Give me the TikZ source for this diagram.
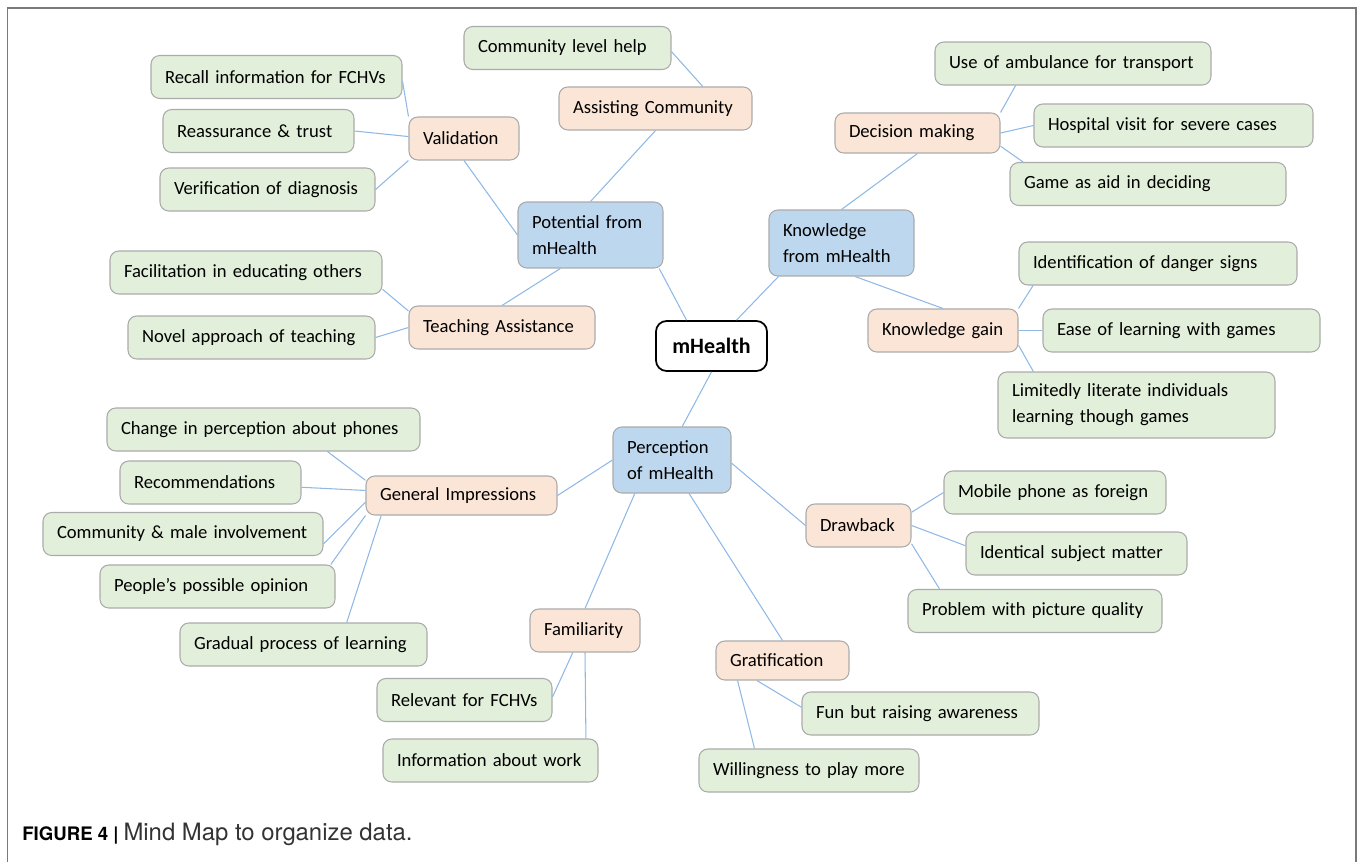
\documentclass[tikz,border=0pt]{standalone}
\usepackage{fontspec}
\setmainfont{Carlito}
\newfontfamily\capfont{TeX Gyre Heros}
\definecolor{hubblue}{HTML}{BDD7EE}
\definecolor{topicpeach}{HTML}{FBE5D6}
\definecolor{leafgreen}{HTML}{E2EFDA}
\definecolor{cardgray}{HTML}{ABABAB}
\definecolor{linkblue}{HTML}{8FB8E6}
\definecolor{framegray}{HTML}{7A7A7A}
\definecolor{captext}{HTML}{333333}
\begin{document}
\begin{tikzpicture}[x=0.02cm, y=-0.02cm,
    card/.style={draw=cardgray, line width=0.6pt, rounded corners=5pt, inner xsep=0.28cm, inner ysep=1pt,
      align=left, minimum height=0.86cm, font=\fontsize{10.6}{14.8}\selectfont},
    hub/.style={card, fill=hubblue, text width=(#1-28)*0.02cm, minimum height=1.32cm},
    topic/.style={card, fill=topicpeach, text width=(#1-28)*0.02cm},
    leaf/.style={card, fill=leafgreen, text width=(#1-28)*0.02cm},
    link/.style={draw=linkblue, line width=0.6pt}]
    \useasboundingbox (0,0) rectangle (1358,862);
    \draw[framegray, line width=1.1pt] (7.5,862) -- (7.5,8) -- (1356,8) -- (1356,862);

    % centre and branches
    \node[draw=black, line width=1pt, rounded corners=6pt, fill=white, minimum width=2.22cm, minimum height=1cm,
      font=\fontsize{12.5}{15}\selectfont\bfseries] (root) at (711.5,346) {mHealth};
    \node[hub=145] (pot) at (590.5,235) {Potential from\\mHealth};
    \node[hub=145] (know) at (841.5,243) {Knowledge\\from mHealth};
    \node[hub=118] (perc) at (672,460) {Perception\\of mHealth};

    \node[topic=193] (assist) at (655.5,108.5) {Assisting Community};
    \node[topic=110] (valid) at (464,138.5) {Validation};
    \node[topic=186] (teach) at (502,327.5) {Teaching Assistance};
    \node[topic=165, minimum height=0.8cm] (decis) at (917.5,133) {Decision making};
    \node[topic=150] (kgain) at (943,330.5) {Knowledge gain};
    \node[topic=191, minimum height=0.78cm] (genimp) at (461.5,495.5) {General Impressions};
    \node[topic=105] (drawb) at (858.5,525.5) {Drawback};
    \node[topic=110] (famil) at (585,630.5) {Familiarity};
    \node[topic=133, minimum height=0.78cm] (grat) at (782.5,660.5) {Gratification};

    % leaves
    \node[leaf=207] (help) at (567.5,48) {Community level help};
    \node[leaf=251] (recall) at (276.5,77) {Recall information for FCHVs};
    \node[leaf=191] (reass) at (258.5,131) {Reassurance \& trust};
    \node[leaf=215] (verif) at (267.5,189.5) {Verification of diagnosis};
    \node[leaf=272] (facil) at (246,272.5) {Facilitation in educating others};
    \node[leaf=247] (novel) at (251.5,337.5) {Novel approach of teaching};
    \node[leaf=276] (amb) at (1073,63.5) {Use of ambulance for transport};
    \node[leaf=279] (hosp) at (1173.5,125.5) {Hospital visit for severe cases};
    \node[leaf=276] (game) at (1148,184) {Game as aid in deciding};
    \node[leaf=278] (ident) at (1158,263.5) {Identification of danger signs};
    \node[leaf=277] (ease) at (1181.5,330.5) {Ease of learning with games};
    \node[leaf=277, minimum height=1.32cm] (limit) at (1136.5,405) {Limitedly literate individuals\\learning though games};
    \node[leaf=313] (change) at (263.5,429.5) {Change in perception about phones};
    \node[leaf=181] (recomm) at (210.5,482.5) {Recommendations};
    \node[leaf=280] (commale) at (183,534) {Community \& male involvement};
    \node[leaf=235] (people) at (217.5,586.5) {People’s possible opinion};
    \node[leaf=247] (gradual) at (303.5,644.5) {Gradual process of learning};
    \node[leaf=222] (mobile) at (1055,492.5) {Mobile phone as foreign};
    \node[leaf=221] (identical) at (1076.5,553.5) {Identical subject matter};
    \node[leaf=254] (problem) at (1035,611) {Problem with picture quality};
    \node[leaf=175] (relevant) at (464.5,700) {Relevant for FCHVs};
    \node[leaf=215] (info) at (490.5,760.5) {Information about work};
    \node[leaf=237] (fun) at (920.5,713.5) {Fun but raising awareness};
    \node[leaf=220] (willing) at (809,770.5) {Willingness to play more};

    % connectors
    \draw[link] (root.134) -- (pot.-26);
    \draw[link] (root.46) -- (know.208);
    \draw[link] (root.south) -- (perc.73);
    \draw[link] (pot.north) -- (assist.south);
    \draw[link] (pot.west) -- (valid.south);
    \draw[link] (pot.-132) -- (teach.north);
    \draw[link] (assist.25) -- (help.-2);
    \draw[link] (valid.north west) -- (recall.-2);
    \draw[link] (valid.178) -- (reass.east);
    \draw[link] (valid.south west) -- (verif.east);
    \draw[link] (teach.170) -- (facil.-7);
    \draw[link] (teach.west) -- (novel.east);
    \draw[link] (know.north) -- (decis.south);
    \draw[link] (decis.north east) -- (amb.201);
    \draw[link] (decis.east) -- (hosp.west);
    \draw[link] (decis.-9) -- (game.170);
    \draw[link] (know.-68) -- (kgain.north);
    \draw[link] (kgain.north east) -- (ident.190);
    \draw[link] (kgain.east) -- (ease.west);
    \draw[link] (kgain.-11) -- (limit.162);
    \draw[link] (perc.west) -- (genimp.east);
    \draw[link] (genimp.171) -- (change.-19);
    \draw[link] (genimp.177) -- (recomm.-3);
    \draw[link] (genimp.184) -- (commale.-4);
    \draw[link] (genimp.south west) -- (people.11);
    \draw[link] (genimp.194) -- (gradual.27);
    \draw[link] (perc.222) -- (famil.north);
    \draw[link] (perc.-63) -- (grat.north);
    \draw[link] (perc.-3) -- (drawb.west);
    \draw[link] (drawb.14) -- (mobile.west);
    \draw[link] (drawb.east) -- (identical.176);
    \draw[link] (drawb.-19) -- (problem.167);
    \draw[link] (famil.241) -- (relevant.2);
    \draw[link] (famil.south) -- (info.13);
    \draw[link] (grat.218) -- (fun.177);
    \draw[link] (grat.204) -- (willing.158);

    \node[anchor=base west, inner sep=0pt, font=\capfont] (caption) at (22,840)
      {{\fontsize{10.6}{12}\selectfont\bfseries FIGURE 4 |} {\color{captext}\fontsize{13.6}{15}\selectfont Mind Map to organize data.}};
\end{tikzpicture}
\end{document}
